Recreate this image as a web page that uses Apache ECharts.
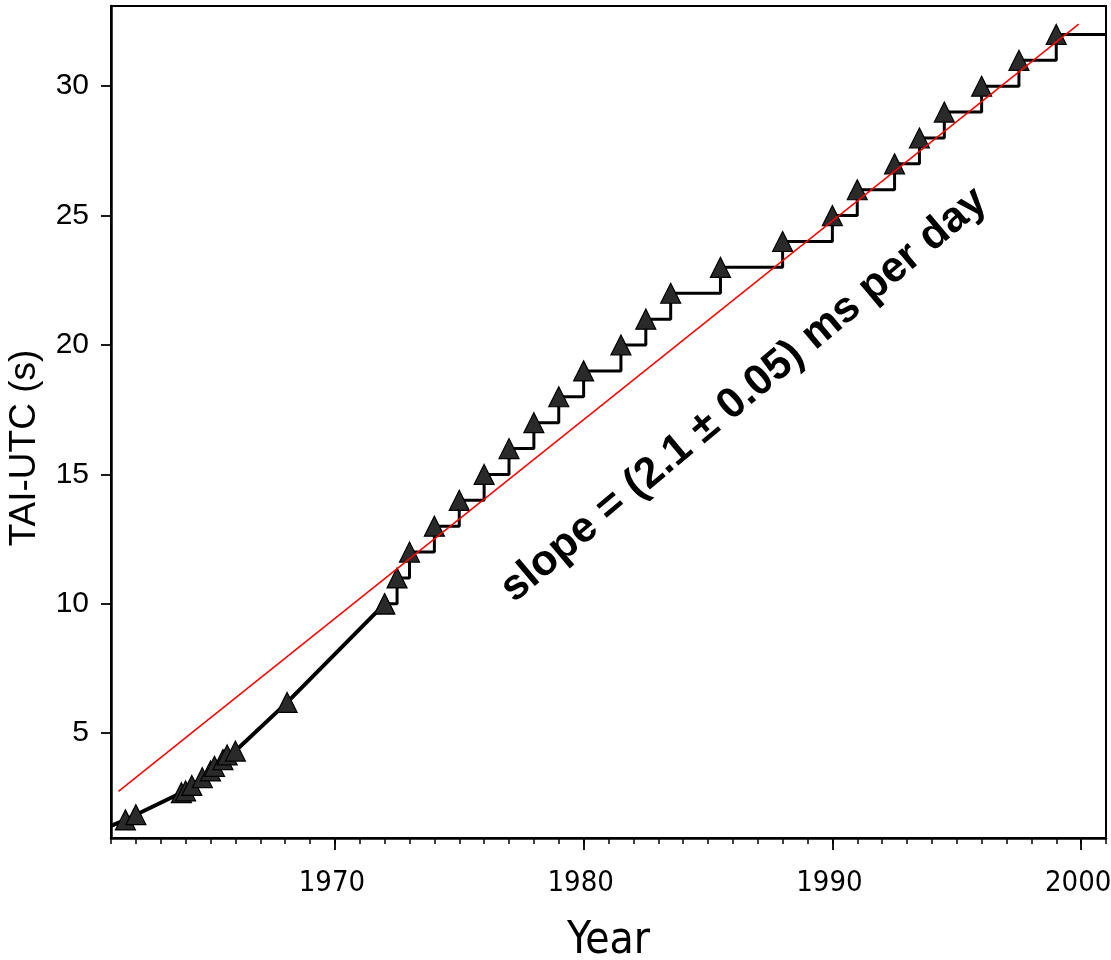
<!DOCTYPE html>
<html>
<head>
<meta charset="utf-8">
<script src="https://cdn.jsdelivr.net/npm/echarts@6/dist/echarts.min.js"></script>
<style>
html,body{margin:0;padding:0;background:#fff;}
#chart{width:1111px;height:960px;}
</style>
</head>
<body>
<div id="chart"></div>
<script>
// Pre-1972 (rate-offset era) TAI-UTC values: [year, seconds]
const earlyYears  = [1961.0, 1961.58, 1962.0, 1963.83, 1964.0, 1964.25, 1964.67, 1965.0, 1965.16, 1965.5, 1965.67, 1966.0, 1968.08, 1972.0];
const earlyValues = [1.42,   1.65,    1.85,   2.70,    2.77,   2.98,    3.28,    3.54,   3.72,    3.98,   4.16,    4.31,   6.19,    10.0];
const earlyMarker = [false,  true,    true,   true,    true,   true,    true,    true,   true,    true,   true,    true,   true,    true];

// Leap-second era: [year, seconds]
const leapYears  = [1972.0, 1972.5, 1973.0, 1974.0, 1975.0, 1976.0, 1977.0, 1978.0, 1979.0, 1980.0, 1981.5, 1982.5, 1983.5, 1985.5, 1988.0, 1990.0, 1991.0, 1992.5, 1993.5, 1994.5, 1996.0, 1997.5, 1999.0, 2001.0];
const leapValues = [10,     11,     12,     13,     14,     15,     16,     17,     18,     19,     20,     21,     22,     23,     24,     25,     26,     27,     28,     29,     30,     31,     32,     32];
const leapMarker = [true,   true,   true,   true,   true,   true,   true,   true,   true,   true,   true,   true,   true,   true,   true,   true,   true,   true,   true,   true,   true,   true,   true,   false];

// Linear fit line
const fitYears  = [1961.3, 1999.9];
const fitValues = [2.75,   32.4];

const yTicks = [5, 10, 15, 20, 25, 30];
const xMajorTicks = [1970, 1980, 1990, 2000];
const annotation = 'slope = (2.1 \u00B1 0.05) ms per day';

const narrowFont = '"Liberation Sans Narrow", "DejaVu Sans Condensed", "Roboto Condensed", "Open Sans Condensed", "Liberation Sans", Arial, sans-serif';

const triStyle = {color: '#2a2a2a', borderColor: '#000', borderWidth: 1.2};
function pts(xs, ys, marks) {
  return xs.map((x, i) => ({
    value: [x, ys[i]],
    symbol: marks[i] ? 'triangle' : 'none'
  }));
}

const chart = echarts.init(document.getElementById('chart'), null, {renderer: 'canvas'});
chart.setOption({
  animation: false,
  backgroundColor: '#fff',
  grid: {left: 111, right: 5, top: 6, bottom: 122, show: true, borderColor: '#000', borderWidth: 2,
    containLabel: false, outerBoundsMode: 'none'},
  xAxis: [{
    type: 'value', min: 1961, max: 2001, interval: 1, position: 'bottom',
    axisLine: {show: true, onZero: false, lineStyle: {color: '#000', width: 2.5}},
    axisTick: {show: true, length: 6, lineStyle: {color: '#000', width: 1.5}},
    axisLabel: {show: false},
    splitLine: {show: false}
  }, {
    type: 'value', min: 1961, max: 2001, position: 'bottom', offset: 0,
    axisLine: {show: false},
    axisTick: {show: true, length: 12, customValues: xMajorTicks, lineStyle: {color: '#000', width: 1.8}},
    axisLabel: {show: true, customValues: xMajorTicks, margin: 31, color: '#000',
      formatter: v => String(v), fontFamily: narrowFont, fontSize: 29, padding: [0, 6, 0, 0]},
    splitLine: {show: false},
    name: 'Year', nameLocation: 'middle', nameGap: 82,
    nameTextStyle: {color: '#000', fontFamily: narrowFont, fontSize: 44}
  }],
  yAxis: {
    type: 'value', min: 0.95, max: 33.1,
    axisLine: {show: true, onZero: false, lineStyle: {color: '#000', width: 2.5}},
    axisTick: {show: true, length: 10, customValues: yTicks, lineStyle: {color: '#000', width: 1.8}},
    axisLabel: {show: true, customValues: yTicks, margin: 22, color: '#000',
      fontFamily: '"Liberation Sans", Arial, sans-serif', fontSize: 30},
    splitLine: {show: false},
    name: 'TAI-UTC (s)', nameLocation: 'middle', nameGap: 68, nameRotate: 90,
    nameTextStyle: {color: '#000', fontFamily: '"Liberation Sans", Arial, sans-serif', fontSize: 37, padding: [0, 52, 0, 0]}
  },
  series: [{
    type: 'line', xAxisIndex: 0, data: pts(earlyYears, earlyValues, earlyMarker),
    symbolSize: 20, lineStyle: {color: '#000', width: 4}, itemStyle: triStyle, z: 3
  }, {
    type: 'line', xAxisIndex: 0, step: 'end', data: pts(leapYears, leapValues, leapMarker),
    symbolSize: 20, lineStyle: {color: '#000', width: 3}, itemStyle: triStyle, z: 3
  }, {
    type: 'line', xAxisIndex: 0, data: fitYears.map((x, i) => [x, fitValues[i]]),
    symbol: 'none', lineStyle: {color: '#ff0000', width: 1.5}, z: 5
  }],
  graphic: [{
    type: 'text', x: 744, y: 395, rotation: 40 * Math.PI / 180,
    style: {text: annotation, align: 'center', verticalAlign: 'middle', fill: '#000',
      font: 'bold 43px "Liberation Sans", Arial, sans-serif'},
    z: 10
  }]
});
</script>
</body>
</html>
